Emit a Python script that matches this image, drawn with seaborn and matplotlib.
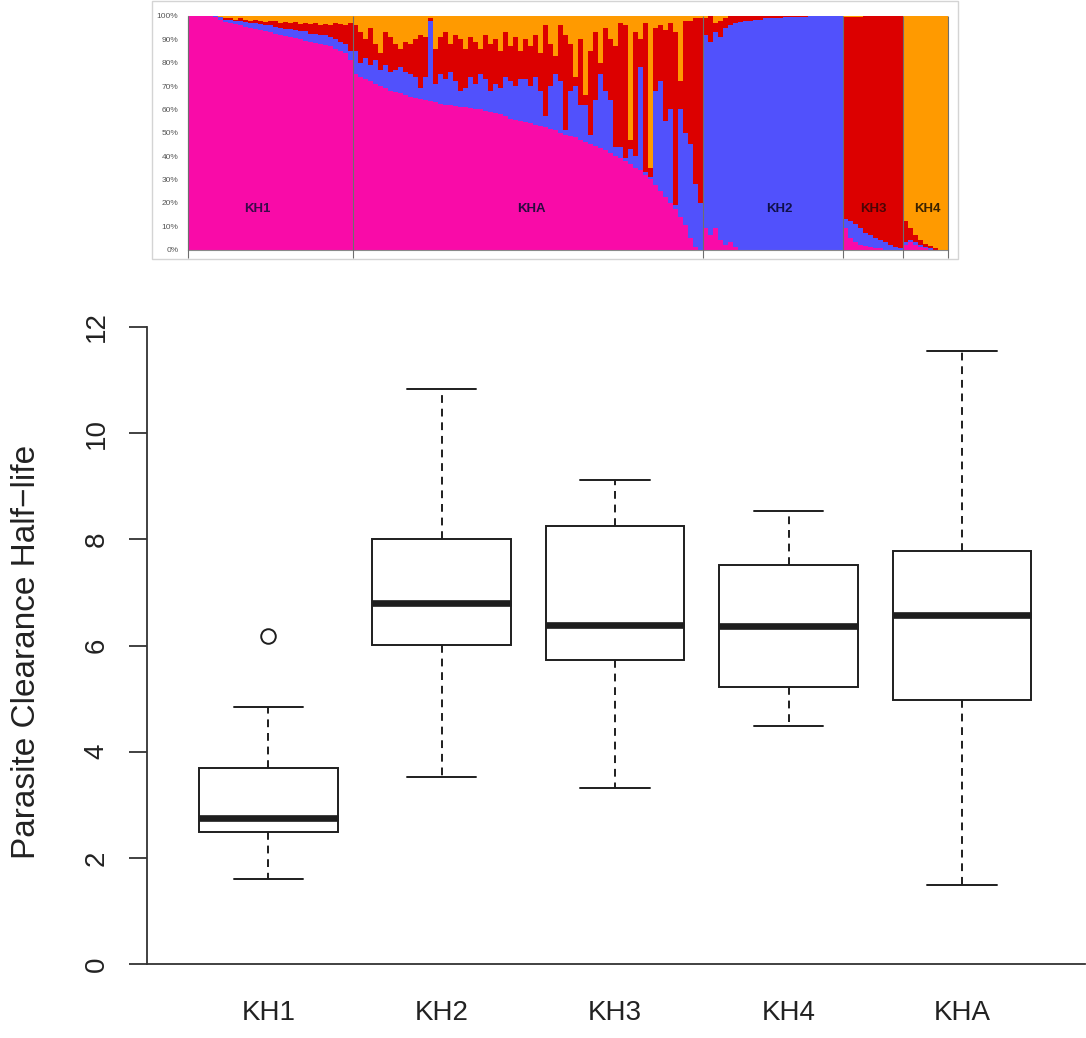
import matplotlib
matplotlib.use("Agg")
import matplotlib.pyplot as plt
import matplotlib.patches as mpatches
import seaborn as sns
import numpy as np
import pandas as pd

# ---- admixture proportions (cumulative tops, %) ----
kh1_pink_top = [100, 100, 100, 100, 100, 99.5, 98.5, 97.5, 97, 96.5, 96, 95.5, 95, 94.5, 94, 93.5, 93,
                92.5, 92, 91.5, 91, 90.5, 90, 89.5, 89, 88.5, 88, 87.5, 87, 86, 85, 84, 81]
kh1_blue_top = [100, 100, 100, 100, 100, 100, 99.5, 98.5, 98.5, 98, 98, 97.5, 97, 97, 96.5, 96, 96,
                95.5, 95, 94.5, 94.5, 94, 93.5, 93.5, 92.5, 92.5, 92, 92, 91, 90, 89, 88, 85]
kh1_red_top = [100, 100, 100, 100, 100, 100, 99.5, 99, 99, 98.5, 99, 98.5, 98, 98.5, 98, 97.5, 98,
               98, 97, 97.5, 97, 97.5, 96.5, 97, 96.5, 97, 96, 96.5, 96, 97, 96.5, 96, 97]

kha_pink_top = [75, 74, 73, 72, 71, 70, 69, 68, 67.5, 67, 66, 65.5, 65, 64.5, 64, 63.5, 63, 62.5, 62, 62,
                61.5, 61, 61, 60.5, 60, 60, 59.5, 59, 58.5, 58, 57, 56, 55.5, 55, 54.5, 54, 53.5, 53, 52.5, 51.5,
                51, 50, 49, 48.5, 48, 47, 46, 45, 44.5, 43.5, 42.5, 41.5, 40, 39, 38, 36.5, 35, 34, 32, 30,
                27.5, 25, 22.5, 20, 17.5, 14, 10.5, 5, 1, 0]
kha_blue_top = [85, 80, 82, 79, 81, 77, 79, 76, 77, 78,
                76, 75, 74, 69, 74, 98, 71, 75, 73, 76,
                72, 68, 69, 74, 71, 75, 73, 68, 71, 69,
                74, 72, 70, 73, 73, 70, 74, 68, 57, 70,
                75, 72, 51, 68, 70, 62, 62, 49, 64, 75,
                68, 64, 44, 44, 39, 43, 40, 78, 33, 31,
                68, 72, 55, 60, 19, 60, 50, 45, 28, 20]
kha_red_top = [96, 93, 90, 95, 88, 84, 93, 91, 88, 86,
               89, 88, 90, 92, 91, 99, 86, 91, 93, 88,
               92, 90, 86, 91, 89, 86, 92, 88, 90, 85,
               93, 87, 91, 85, 90, 87, 92, 84, 96, 88,
               83, 96, 92, 88, 74, 90, 66, 85, 93, 80,
               95, 90, 87, 97, 96, 47, 93, 90, 97, 35,
               95, 96, 94, 97, 93, 72, 98, 98, 99, 99]

kh2_pink_top = [9, 6, 9, 4, 2, 3, 1] + [0] * 21
kh2_blue_top = [92, 89, 93, 91, 95, 96, 97, 97.5, 98, 98, 98.5, 98.5, 99, 99,
                99, 99, 99.5, 99.5, 99.5, 99.5, 99.5, 100, 100, 100, 100, 100, 100, 100]
kh2_red_top = [99, 100, 97, 98, 99] + [100] * 23

kh3_pink_top = [9, 5, 3, 2, 1.5, 1, 0.5, 0.5, 0, 0, 0, 0]
kh3_blue_top = [13, 12, 11, 9, 7, 6, 5, 4, 3, 2, 1, 0.5]
kh3_red_top = [99.5, 99.5, 99.5, 99.5, 100, 100, 100, 100, 100, 100, 100, 100]

kh4_pink_top = [2, 3, 2, 1, 0.5, 0, 0, 0, 0]
kh4_blue_top = [3, 4, 3, 2, 1, 0.5, 0, 0, 0]
kh4_red_top = [12, 9, 6, 4, 2.5, 1.5, 0.5, 0, 0]

cluster_order = ["KH1", "KHA", "KH2", "KH3", "KH4"]

# ---- boxplot summary (half-life) ----
groups = ["KH1", "KH2", "KH3", "KH4", "KHA"]
lower_whisker = [1.60, 3.52, 3.31, 4.49, 1.49]
q1 = [2.49, 6.01, 5.72, 5.21, 4.97]
median = [2.75, 6.80, 6.38, 6.37, 6.57]
q3 = [3.69, 8.00, 8.25, 7.52, 7.78]
upper_whisker = [4.84, 10.83, 9.11, 8.54, 11.54]
outliers = {"KH1": [6.18]}

PINK, BLUE, RED, ORANGE = "#F90BA8", "#5151FC", "#DC0000", "#FF9A00"

sns.set_style("white")
plt.rcParams["font.family"] = ["Liberation Sans", "DejaVu Sans"]

fig = plt.figure(figsize=(10.86, 10.38), dpi=100)
W, H = 1086, 1038

# ---------------- top panel: admixture bars ----------------
frame = mpatches.Rectangle((152 / W, 1 - 259 / H), 806 / W, 258 / H, transform=fig.transFigure,
                           facecolor="none", edgecolor="#d4d4d4", linewidth=1, zorder=-1)
fig.patches.append(frame)

ax_top = fig.add_axes([188 / W, 1 - 249.5 / H, 760 / W, 233.5 / H])
ax_top.patch.set_alpha(0)
pink_top = kh1_pink_top + kha_pink_top + kh2_pink_top + kh3_pink_top + kh4_pink_top
blue_top = kh1_blue_top + kha_blue_top + kh2_blue_top + kh3_blue_top + kh4_blue_top
red_top = kh1_red_top + kha_red_top + kh2_red_top + kh3_red_top + kh4_red_top
n = len(pink_top)
sample = np.arange(n)
for heights, col in [(np.full(n, 100.0), ORANGE), (red_top, RED), (blue_top, BLUE), (pink_top, PINK)]:
    sns.barplot(x=sample, y=heights, color=col, saturation=1, width=1, linewidth=0,
                errorbar=None, ax=ax_top)

sizes = [len(kh1_pink_top), len(kha_pink_top), len(kh2_pink_top), len(kh3_pink_top), len(kh4_pink_top)]
bounds = np.concatenate([[0], np.cumsum(sizes)]) - 0.5
ax_top.vlines(bounds, -3.6, 100, colors="#6e6e6e", linewidth=0.8, clip_on=False, zorder=5)
ax_top.set_xlim(-0.5, n - 0.5)
ax_top.set_ylim(0, 100)
ax_top.set_xticks([])
ax_top.set_yticks(np.arange(0, 101, 10))
ax_top.set_yticklabels([f"{v}%" for v in range(0, 101, 10)])
ax_top.tick_params(axis="y", length=0, pad=7, labelsize=6, labelcolor="#555555")
ax_top.set_xlabel("")
ax_top.set_ylabel("")
for side in ["top", "right"]:
    ax_top.spines[side].set_visible(False)
for side in ["left", "bottom"]:
    ax_top.spines[side].set_color("#8a8a8a")
    ax_top.spines[side].set_linewidth(0.8)

label_x = [13.3, 68.1, 117.7, 136.5, 147.3]
label_col = ["#3a0a4a", "#2a0a40", "#10104a", "#4a0505", "#3a2200"]
for name, lx, lc in zip(cluster_order, label_x, label_col):
    ax_top.text(lx, 17.5, name, ha="center", va="center", fontsize=9.5, fontweight="bold", color=lc)

# ---------------- bottom panel: boxplot ----------------
rows = []
for i, g in enumerate(groups):
    vals = [lower_whisker[i], q1[i], q1[i], median[i], median[i], q3[i], q3[i], upper_whisker[i]]
    vals += outliers.get(g, [])
    rows += [(g, v) for v in vals]
df = pd.DataFrame(rows, columns=["group", "half_life"])

ax = fig.add_axes([147 / W, 1 - 964 / H, 938 / W, 637 / H])
sns.boxplot(data=df, x="group", y="half_life", order=groups, ax=ax, color="white",
            linecolor="#1e1e1e", saturation=1, width=0.8, linewidth=1.4, whis=1.5,
            medianprops=dict(linewidth=4.8, color="#1e1e1e", solid_capstyle="butt"),
            whiskerprops=dict(linestyle=(0, (4, 3))),
            flierprops=dict(marker="o", markerfacecolor="none", markeredgecolor="#1e1e1e",
                            markersize=10.5, markeredgewidth=1.4))
ax.set_xlim(-0.70, 4.71)
ax.set_ylim(0, 12)
ax.set_yticks(np.arange(0, 13, 2))
ax.set_xlabel("")
ax.set_ylabel("Parasite Clearance Half\u2212life", fontsize=24, color="#222222")
ax.yaxis.set_label_coords(-0.112, 0.49)
for side in ["top", "right"]:
    ax.spines[side].set_visible(False)
for side in ["left", "bottom"]:
    ax.spines[side].set_color("#333333")
    ax.spines[side].set_linewidth(1.3)
ax.tick_params(axis="y", direction="out", length=13, width=1.3, color="#333333",
               pad=14, labelsize=20, labelcolor="#222222", left=True)
ax.tick_params(axis="x", length=0, pad=26, labelsize=20, labelcolor="#222222")
plt.setp(ax.get_yticklabels(), rotation=90, va="center")

fig.savefig("out.png", dpi=100)
